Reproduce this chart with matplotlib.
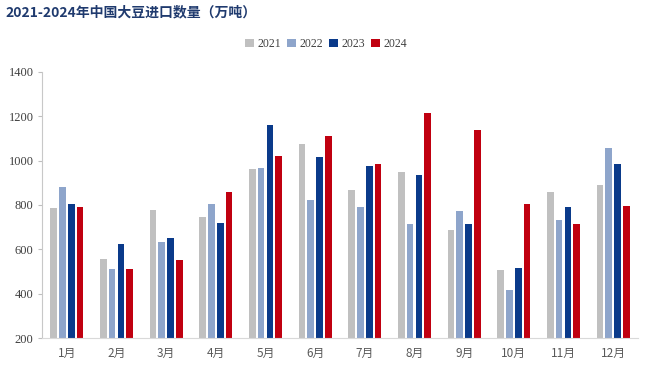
import numpy as np
import matplotlib
matplotlib.use("Agg")
import matplotlib.pyplot as plt

plt.rcParams['font.family'] = ['Noto Sans CJK SC', 'DejaVu Sans']

months = ['1月', '2月', '3月', '4月', '5月', '6月', '7月', '8月', '9月', '10月', '11月', '12月']
years = ['2021', '2022', '2023', '2024']
v2021 = [785, 555, 776, 745, 960, 1073, 866, 947, 686, 509, 858, 888]
v2022 = [882, 510, 633, 804, 966, 822, 790, 716, 771, 416, 732, 1055]
v2023 = [804, 626, 650, 720, 1158, 1017, 975, 935, 716, 515, 790, 983]
v2024 = [789, 510, 551, 857, 1020, 1110, 983, 1215, 1137, 806, 716, 794]
colors = ['#c0c0c0', '#8ea5cb', '#0a3a8a', '#c00010']

fig = plt.figure(figsize=(6.52, 3.69), dpi=100)
ax = fig.add_axes([42 / 652, 1 - 338.3 / 369, 596 / 652, 266.6 / 369])

x = np.arange(len(months))
step = 0.176
width = 0.135
for i, (vals, c, y) in enumerate(zip([v2021, v2022, v2023, v2024], colors, years)):
    ax.bar(x + (i - 1.5) * step, np.array(vals) - 200, width=width, bottom=200,
           color=c, label=y, zorder=2)

ax.set_xlim(-0.5, 11.5)
ax.set_ylim(200, 1400)
ax.set_yticks(range(200, 1401, 200))
ax.set_yticklabels([str(v) for v in range(200, 1401, 200)], family='Liberation Serif',
                   fontsize=9, color='#404040')
ax.set_xticks(x)
ax.set_xticklabels(months, fontsize=8.5, color='#595959')
ax.tick_params(axis='x', length=0, pad=6)
ax.tick_params(axis='y', length=3, color='#bfbfbf', pad=3)
for s in ['top', 'right']:
    ax.spines[s].set_visible(False)
ax.spines['left'].set_color('#c8c8c8')
ax.spines['bottom'].set_color('#d9d9d9')

leg = ax.legend(loc='center', bbox_to_anchor=(326 / 652, 1 - 44 / 369),
                bbox_transform=fig.transFigure, ncol=4, frameon=False,
                handlelength=0.75, handleheight=0.75, handletextpad=0.3, columnspacing=0.5,
                prop={'family': 'Liberation Serif', 'size': 8.5})
for t in leg.get_texts():
    t.set_color('#404040')

fig.text(5 / 652, 1 - 12 / 369, '2021-2024年中国大豆进口数量（万吨）', fontsize=10,
         fontweight='bold', color='#1f3a6e', va='center', ha='left')

fig.savefig('out.png', dpi=100)
